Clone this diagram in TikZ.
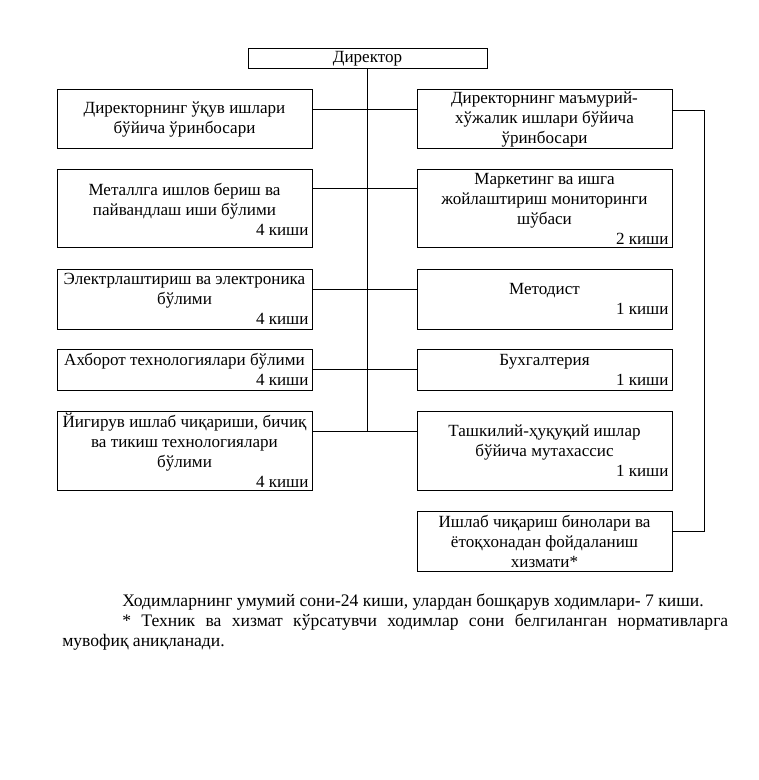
\documentclass[tikz,border=0pt]{standalone}
\usepackage{fontspec}
\setmainfont{Liberation Serif}
\newcommand\ptxt[2]{\parbox{186pt}{\centering #1\par\raggedleft #2\par}}
\begin{document}
\begin{tikzpicture}[x=0.75pt,y=-0.75pt,
  every node/.style={font={\fontsize{12.8pt}{15pt}\selectfont}},
  dirbox/.style={draw, line width=0.75pt, minimum width=179.25pt, minimum height=15pt, inner sep=0pt},
  box/.style={draw, line width=0.75pt, minimum width=191.25pt, inner sep=0pt},
  conn/.style={draw, line width=0.75pt}]
\useasboundingbox (0,0) rectangle (758,780);
\node[dirbox] (dir) at (367.5,59) {Директор};
% left column
\node[box, minimum height=44.25pt] (L1) at (184.5,119.5) {\ptxt{Директорнинг ўқув ишлари\\ бўйича ўринбосари}{}};
\node[box, minimum height=58.5pt] (L2) at (184.5,209) {\ptxt{Металлга ишлов бериш ва\\ пайвандлаш иши бўлими}{4 киши}};
\node[box, minimum height=45pt] (L3) at (184.5,299) {\ptxt{Электрлаштириш ва электроника\\ бўлими}{4 киши}};
\node[box, minimum height=30.75pt] (L4) at (184.5,369.5) {\ptxt{Ахборот технологиялари бўлими}{4 киши}};
\node[box, minimum height=59.25pt] (L5) at (184.5,450.5) {\ptxt{Йигирув ишлаб чиқариши, бичиқ\\ ва тикиш технологиялари\\ бўлими}{4 киши}};
% right column
\node[box, minimum height=44.25pt] (R1) at (544.5,119.5) {\ptxt{Директорнинг маъмурий-\\ хўжалик ишлари бўйича\\ ўринбосари}{}};
\node[box, minimum height=58.5pt] (R2) at (544.5,209) {\ptxt{Маркетинг ва ишга\\ жойлаштириш мониторинги\\ шўбаси}{2 киши}};
\node[box, minimum height=45pt] (R3) at (544.5,299) {\ptxt{Методист}{1 киши}};
\node[box, minimum height=30.75pt] (R4) at (544.5,369.5) {\ptxt{Бухгалтерия}{1 киши}};
\node[box, minimum height=59.25pt] (R5) at (544.5,450.5) {\ptxt{Ташкилий-ҳуқуқий ишлар\\ бўйича мутахассис}{1 киши}};
\node[box, minimum height=45pt] (R6) at (544.5,541) {\ptxt{Ишлаб чиқариш бинолари ва\\ ётоқхонадан фойдаланиш\\ хизмати*}{}};
% connectors
\coordinate (t1) at (368,110);
\coordinate (t2) at (368,189);
\coordinate (t3) at (368,289);
\coordinate (t4) at (368,369);
\coordinate (t5) at (368,431);
\draw[conn] (dir.south) -- (dir.south |- t5);
\draw[conn] (L1.east |- t1) -- (R1.west |- t1);
\draw[conn] (L2.east |- t2) -- (R2.west |- t2);
\draw[conn] (L3.east |- t3) -- (R3.west |- t3);
\draw[conn] (L4.east |- t4) -- (R4.west |- t4);
\draw[conn] (L5.east |- t5) -- (R5.west |- t5);
\coordinate (bt) at (704,111);
\coordinate (bb) at (704,531);
\draw[conn] (R1.east |- bt) -- (bt) -- (bb) -- (R6.east |- bb);
% note
\node[anchor=north west, inner sep=0pt, font={\fontsize{13.2pt}{15pt}\selectfont}] (note) at (62,594) {\parbox{499.5pt}{\setlength\parindent{45pt}\indent Ходимларнинг умумий сони-24 киши, улардан бошқарув ходимлари- 7 киши.\par
\indent * Техник ва хизмат кўрсатувчи ходимлар сони белгиланган нормативларга\linebreak мувофиқ аниқланади.\par}};
\end{tikzpicture}
\end{document}
